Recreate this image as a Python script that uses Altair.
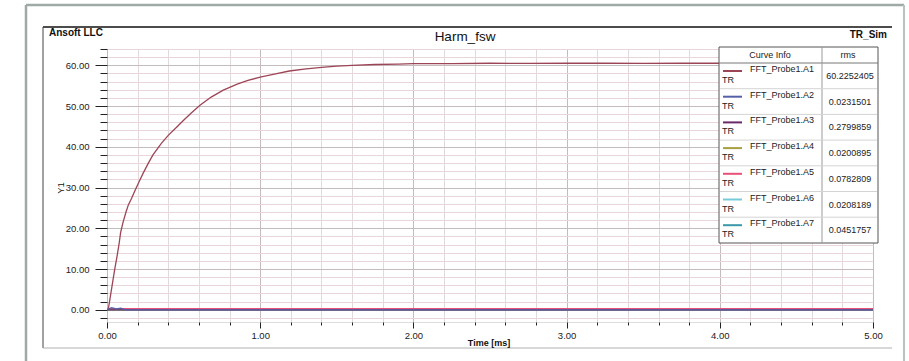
import altair as alt
import pandas as pd

# ---------------- data ----------------
curve_names = ["FFT_Probe1.A1", "FFT_Probe1.A2", "FFT_Probe1.A3", "FFT_Probe1.A4",
               "FFT_Probe1.A5", "FFT_Probe1.A6", "FFT_Probe1.A7"]
curve_colors = ["#9c4557", "#5560a8", "#6a2a6a", "#a8a040", "#e8507a", "#78cad8", "#3a98a8"]
rms_values = ["60.2252405", "0.0231501", "0.2799859", "0.0200895",
              "0.0782809", "0.0208189", "0.0451757"]

t_a1 = [0.0, 0.01, 0.026, 0.04, 0.052, 0.065, 0.08, 0.089, 0.105, 0.124, 0.14, 0.16,
        0.18, 0.21, 0.237, 0.27, 0.3, 0.356, 0.4, 0.454, 0.5, 0.55, 0.607, 0.68,
        0.759, 0.85, 0.92, 1.0, 1.1, 1.19, 1.3, 1.4, 1.5, 1.6, 1.75, 1.9, 2.0,
        2.25, 2.5, 2.75, 3.0, 3.25, 3.5, 3.75, 4.0, 4.25, 4.5, 4.75, 5.0]
v_a1 = [0.0, 0.5, 4.2, 7.5, 10.3, 13.0, 16.5, 19.0, 21.5, 24.0, 25.8, 27.3,
        29.0, 31.5, 33.6, 36.0, 38.0, 40.9, 42.8, 44.8, 46.5, 48.3, 50.2, 52.2,
        53.9, 55.4, 56.3, 57.1, 57.9, 58.6, 59.1, 59.5, 59.8, 60.0, 60.2, 60.3, 60.4,
        60.4, 60.5, 60.45, 60.5, 60.5, 60.45, 60.5, 60.5, 60.45, 60.5, 60.5, 60.55]

t_small = [0.0, 0.03, 0.06, 0.09, 0.12, 5.0]
v_a2 = [0.0, 0.5, 0.2, 0.4, 0.0, 0.0]
v_a3 = [0.0, 0.0, 0.0, 0.0, 0.0, 0.0]
v_a4 = [0.0, 0.0, 0.0, 0.0, 0.0, 0.0]
v_a5 = [0.25, 0.25, 0.25, 0.25, 0.25, 0.25]
v_a6 = [0.0, 0.0, 0.0, 0.0, 0.0, 0.0]
v_a7 = [0.05, 0.05, 0.05, 0.05, 0.05, 0.05]

x_ticks = [0.0, 0.2, 0.4, 0.6, 0.8, 1.0, 1.2, 1.4, 1.6, 1.8, 2.0, 2.2, 2.4, 2.6, 2.8,
           3.0, 3.2, 3.4, 3.6, 3.8, 4.0, 4.2, 4.4, 4.6, 4.8, 5.0]
y_ticks = [-2, 0, 2, 4, 6, 8, 10, 12, 14, 16, 18, 20, 22, 24, 26, 28, 30, 32, 34, 36,
           38, 40, 42, 44, 46, 48, 50, 52, 54, 56, 58, 60, 62, 64]

# ---------------- tables ----------------
rows = []
for t, v in zip(t_a1, v_a1):
    rows.append({"t": t, "v": v, "curve": curve_names[0]})
small = [(curve_names[6], v_a7), (curve_names[5], v_a6), (curve_names[4], v_a5),
         (curve_names[3], v_a4), (curve_names[2], v_a3), (curve_names[1], v_a2)]
for name, vals in small:
    for t, v in zip(t_small, vals):
        rows.append({"t": t, "v": v, "curve": name})
df = pd.DataFrame(rows)

leg = pd.DataFrame({"name": curve_names, "rms": rms_values, "i": list(range(len(curve_names)))})
one = pd.DataFrame({"k": [0]})

FONT = "Liberation Sans"
W, H = 766, 273

major_x = "abs(datum.value - round(datum.value)) < 0.001"
major_y = "abs(datum.value % 10) < 0.001"

color_scale = alt.Scale(domain=curve_names, range=curve_colors)

lines = alt.Chart(df).mark_line(strokeWidth=1.3, clip=True).encode(
    x=alt.X("t:Q", scale=alt.Scale(domain=[0, 5], nice=False, zero=False),
            axis=alt.Axis(values=x_ticks, title=None, labelFlush=False, labelOverlap=False,
                          labelExpr=f"{major_x} ? format(datum.value, '.2f') : ''",
                          tickSize={"condition": {"test": major_x, "value": 6}, "value": 3},
                          gridColor={"condition": {"test": major_x, "value": "#c4bcbc"}, "value": "#e2dada"},
                          domain=False, tickColor="#222", labelPadding=2,
                          labelFontSize=9.5, labelColor="#222", labelFont=FONT)),
    y=alt.Y("v:Q", scale=alt.Scale(domain=[-3, 64], nice=False, zero=False),
            axis=alt.Axis(values=y_ticks, title=None, labelFlush=False, labelOverlap=False,
                          labelExpr=f"{major_y} ? format(datum.value, '.2f') : ''",
                          tickSize={"condition": {"test": major_y, "value": 12}, "value": 7},
                          gridColor={"condition": {"test": major_y, "value": "#c4bcbc"}, "value": "#e8d6da"},
                          domain=False, tickColor="#222", labelPadding=6,
                          labelFontSize=9.5, labelColor="#222", labelFont=FONT)),
    color=alt.Color("curve:N", scale=color_scale, legend=None),
    detail="curve:N",
)

# ---------------- frames & texts ----------------
def rule(x, x2, y, y2, color, w):
    return alt.Chart(one).mark_rule(color=color, strokeWidth=w).encode(
        x=alt.value(x), x2=alt.value(x2), y=alt.value(y), y2=alt.value(y2))

frames = [
    rule(-81, -81, -44, 320, "#9eaaa6", 2.5),
    rule(-81, 797, -44, -44, "#9eaaa6", 2.5),
    rule(797, 797, -44, 320, "#b8c2c0", 2),
    rule(-64, 785, -22, -22, "#111", 1.5),
    rule(-64, -64, -22, 299, "#444", 1),
    rule(-64, 785, 299, 299, "#b0b0b0", 1),
]

def txt(s, x, y, size, weight="normal", align="left", angle=0, color="#111"):
    return alt.Chart(one).mark_text(text=s, fontSize=size, fontWeight=weight, align=align,
                                    baseline="middle", angle=angle, font=FONT, color=color).encode(
        x=alt.value(x), y=alt.value(y))

texts = [
    txt("Ansoft LLC", -58, -16, 10, "bold"),
    txt("Harm_fsw", 358, -12, 13.5, align="center"),
    txt("TR_Sim", 780, -14, 10, "bold", align="right"),
    txt("Time [ms]", 382, 294, 9, "bold", align="center"),
    txt("Y1", -46, 139, 9.5, align="center", angle=270),
]

# ---------------- legend table ----------------
LX0, LX1, LDIV, LY0, LY1, HDR, RH = 612, 771, 715, -2, 194, 14, 25.7

leg_box = alt.Chart(one).mark_rect(fill="white", stroke="#555", strokeWidth=1).encode(
    x=alt.value(LX0), x2=alt.value(LX1), y=alt.value(LY0), y2=alt.value(LY1))
leg_hdr_line = rule(LX0, LX1, HDR, HDR, "#777", 1)
leg_div = rule(LDIV, LDIV, LY0, LY1, "#999", 1)
leg_hdr1 = txt("Curve Info", 663, 6, 9, align="center", color="#222")
leg_hdr2 = txt("rms", 741, 6, 9, align="center", color="#222")

leg_base = alt.Chart(leg).transform_calculate(
    top=f"{HDR} + {RH} * datum.i")

leg_sep = leg_base.transform_filter("datum.i > 0").mark_rule(color="#d4d4d4", strokeWidth=1).encode(
    x=alt.value(LX0 + 1), x2=alt.value(LX1 - 1), y=alt.Y("top:Q", scale=None))
leg_seg = leg_base.transform_calculate(sy="datum.top + 8").mark_rule(strokeWidth=2).encode(
    x=alt.value(616), x2=alt.value(635), y=alt.Y("sy:Q", scale=None),
    color=alt.Color("name:N", scale=color_scale, legend=None))
leg_name = leg_base.transform_calculate(ny="datum.top + 6").mark_text(
    align="left", baseline="middle", fontSize=9, font=FONT, color="#222").encode(
    x=alt.value(643), y=alt.Y("ny:Q", scale=None), text="name:N")
leg_tr = leg_base.transform_calculate(ry="datum.top + 17").mark_text(
    align="left", baseline="middle", fontSize=9, font=FONT, color="#222", text="TR").encode(
    x=alt.value(615), y=alt.Y("ry:Q", scale=None))
leg_val = leg_base.transform_calculate(vy="datum.top + 13").mark_text(
    align="center", baseline="middle", fontSize=9, font=FONT, color="#222").encode(
    x=alt.value(743), y=alt.Y("vy:Q", scale=None), text="rms:N")

chart = alt.layer(
    lines, *frames, *texts,
    leg_box, leg_hdr_line, leg_div, leg_hdr1, leg_hdr2, leg_sep, leg_seg, leg_name, leg_tr, leg_val,
).properties(
    width=W, height=H, autosize="none",
    padding={"left": 107, "top": 49, "right": 36, "bottom": 39},
    background="white",
).configure_view(
    stroke="#111", strokeWidth=1.2, fill="#f5f8fb"
).configure(font=FONT)

chart.save("out.html", embed_options={"renderer": "svg", "actions": False})
